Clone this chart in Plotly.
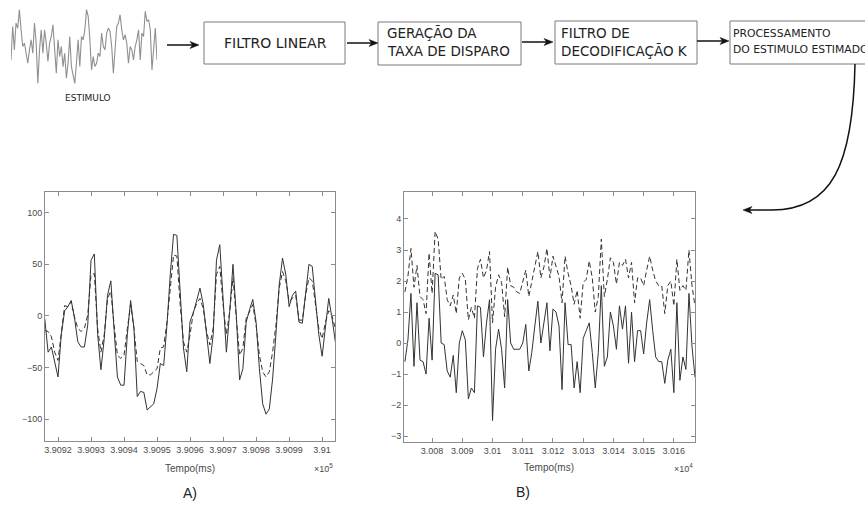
import plotly.graph_objects as go

# ---------------- data ----------------
# Panel A: time in ms (1 ms sampling), stimulus (solid) and estimate (dashed)
a_t0 = 390916
a_solid = [-3, -35, -30, -45, -59, -18, 5, 9, 15, -2, -25, -30, -30, -9, 54, 60, -18, -52, -22, 20,
           34, -14, -59, -67, -67, -18, 15, -12, -78, -73, -74, -91, -88, -85, -70, -46, -48, -9, 40, 79,
           78, 17, -31, -54, -5,
           3, 14, 27, 11, -18, -46, -18, 54, 69, 14, -35, 4, 50, 1, -62, -51, -6, 6, 16, -6,
           -51, -85, -95, -90, -61, -18, 30, 56, 40, 9, 20, 24, -6, -7, 24, 50, 48, 14, -18, -39,
           -9, 17, -2, -25]
a_dashed = [-14, -15, -20, -35, -43, -18, 10, 9, 14, -1, -12, -15, -12, 1, 40, 41, -12, -35, -18, 17,
            24, -9, -38, -41, -38, -12, 11, -12, -44, -46, -48, -57, -57, -54, -51, -31, -30, -6, 30, 59,
            58, 11, -25, -35, -18,
            4, 12, 17, 7, -15, -28, -12, 40, 48, 11, -18, 4, 37, -2, -38, -31, -2, 4, 11, -9,
            -38, -54, -59, -54, -35, -9, 27, 43, 34, 14, 17, 20, -4, -4, 20, 37, 34, 11, -12, -22,
            -6, 5, 0, -12]
a_tickvals = [390920, 390930, 390940, 390950, 390960, 390970, 390980, 390990, 391000]
a_ticktext = ["3.9092", "3.9093", "3.9094", "3.9095", "3.9096", "3.9097", "3.9098", "3.9099", "3.91"]
a_yticks = [-100, -50, 0, 50, 100]

# Panel B
b_t0 = 30071
b_solid = [-0.6, 0.1, 1.6, -0.75, 1.3, -0.55, -0.6, -1.0, 0.8, -0.55, 2.25, 2.2, 0, -0.05, -0.9, -1.1,
           -0.4, -1.6, 0, 0.4, 0.1, -1.8, -1.45, -1.6, 1.2, 1.15, -0.45, 0.65, 1.4, -2.5, -0.2, 0.45,
           -0.2, -1.45, 1.4, 0, -0.2, -0.2, -0.2, 0, 0.6, -0.9, -0.3, 0.55, 1.35, 0, 0.65, 1.3, -0.25,
           1.1, 1.0, 0.55, -1.5, 1.3, -0.05, -0.05, -1.45, -0.6, -1.6, 0.15, 0.4, 0.65, -0.3, -1.45, -0.3,
           1.85, -0.75, -0.45, 1.0, 0.55, -0.2, 1.2, 0.45, 1.2, -0.65, 1.0, -0.6, 0.4, 0.4, -0.35, 0.65,
           1.4, 0.4, -0.45, -0.6, -0.6, -1.3, -0.55, -0.2, -1.6, 1.3, -1.2, -0.45, -0.85, 1.6, -0.1, -1.1]
b_dashed = [1.65, 2.15, 3.05, 1.8, 2.5, 1.5, 1.4, 0.95, 2.9, 1.6, 3.6, 3.35, 2.05, 2.15, 1.4, 1.2,
            1.55, 0.95, 2.1, 2.25, 2.05, 0.75, 1.15, 0.8, 2.4, 2.7, 2.1, 2.35, 2.95, 0.65, 1.8, 2.2,
            1.95, 0.85, 2.45, 1.85, 1.8, 1.65, 1.6, 2.0, 2.35, 1.5, 1.95, 2.45, 2.95, 2.1, 2.45, 3.05, 2.1,
            2.8, 2.5, 2.15, 1.3, 2.8, 2.25, 1.85, 1.25, 1.7, 0.8, 1.95, 2.05, 2.65, 2.1, 1.0, 1.5,
            3.35, 1.5, 2.05, 2.75, 2.6, 1.9, 2.6, 2.5, 2.7, 2.1, 2.6, 1.3, 2.1, 2.1, 1.85, 2.35,
            2.8, 2.35, 2.0, 1.85, 1.85, 0.95, 1.85, 2.0, 1.2, 2.7, 1.7, 1.85, 1.7, 3.0, 1.85, 1.2]
b_tickvals = [30080, 30090, 30100, 30110, 30120, 30130, 30140, 30150, 30160]
b_ticktext = ["3.008", "3.009", "3.01", "3.011", "3.012", "3.013", "3.014", "3.015", "3.016"]
b_yticks = [-3, -2, -1, 0, 1, 2, 3, 4]

# Stimulus trace in the block diagram (arbitrary units)
stim = [-4.0, 6.0, -1.0, 7.0, 5.5, 11.0, 5.0, 0, 1.0, -2.0, -5.0, -1.0, 2.0, -2.0, 7.0, 1.0, -11.0, -1.0,
        5.0, -2.0, 5.0, 1.0, -4.5, 1.0, 3.0, 6.5, -2.0, -8.0, 2.0, -3.0, 0, -6.0, -2.0, -9.5, -5.0, 3.0,
        -6.0, -9.0, -11.0, -5.0, 2.0, -6.0, 3.0, 2.0, 5.0, 11.0, 9.0, 2.0, -7.0, -3.0, -6.0, -5.0, -2.0,
        -3.0, 4.0, 0, -1.0, 4.0, 5.5, 4.5, 0, -8.0, 1.0, 6.0, 7.0, 9.5, 5.0, 2.0, 3.5, 1.0, -5.0, 0,
        -1.0, -4.0, 0, 2.0, 5.0, -4.0, 4.0, 3.0, 10.5, 7.5, 8.0, 5.0, -7.0, 1.0, 5.5, -4.0]

# ---------------- figure ----------------
W, H = 865, 507


def px(x):
    return x / W


def py(y):
    return 1 - y / H


a_t = [a_t0 + i for i in range(len(a_solid))]
b_t = [b_t0 + i for i in range(len(b_solid))]

fig = go.Figure()
LINE = '#333333'
fig.add_trace(go.Scatter(x=a_t, y=a_solid, mode='lines', line=dict(color=LINE, width=1),
                         xaxis='x', yaxis='y', showlegend=False))
fig.add_trace(go.Scatter(x=a_t, y=a_dashed, mode='lines', line=dict(color=LINE, width=1, dash='5px,3px'),
                         xaxis='x', yaxis='y', showlegend=False))
fig.add_trace(go.Scatter(x=b_t, y=b_solid, mode='lines', line=dict(color=LINE, width=1),
                         xaxis='x2', yaxis='y2', showlegend=False))
fig.add_trace(go.Scatter(x=b_t, y=b_dashed, mode='lines', line=dict(color=LINE, width=1, dash='5px,3px'),
                         xaxis='x2', yaxis='y2', showlegend=False))
fig.add_trace(go.Scatter(x=list(range(len(stim))), y=stim, mode='lines',
                         line=dict(color='#909090', width=1.1), xaxis='x3', yaxis='y3', showlegend=False))

TICKFONT = dict(family='Liberation Sans, Arial, sans-serif', size=9, color='#4a4a4a')
ax_common = dict(showline=True, linecolor='#8c8c8c', linewidth=1, mirror='ticks', ticks='inside',
                 ticklen=4, tickcolor='#8c8c8c', showgrid=False, zeroline=False, tickfont=TICKFONT)

fig.update_layout(
    width=W, height=H, margin=dict(l=0, r=0, t=0, b=0),
    paper_bgcolor='white', plot_bgcolor='white', showlegend=False,
    xaxis=dict(domain=[px(45), px(335)], range=[390916.06, 391003.9], tickvals=a_tickvals,
               ticktext=a_ticktext, anchor='y', **ax_common),
    yaxis=dict(domain=[py(441), py(192)], range=[-121, 120], tickvals=a_yticks, anchor='x', **ax_common),
    xaxis2=dict(domain=[px(404), px(695)], range=[30070.7, 30167], tickvals=b_tickvals,
                ticktext=b_ticktext, anchor='y2', **ax_common),
    yaxis2=dict(domain=[py(442), py(192)], range=[-3.19, 4.87], tickvals=b_yticks, anchor='x2', **ax_common),
    xaxis3=dict(domain=[px(11), px(157)], range=[0, len(stim) - 1], visible=False, anchor='y3'),
    yaxis3=dict(domain=[py(85), py(8)], range=[-11.5, 11.5], visible=False, anchor='x3'),
)

# ---------------- diagram ----------------
BOX = dict(color='#7a7a7a', width=1)
boxes = [(204, 22, 345, 64), (378, 22, 521, 65), (555, 21, 697, 64), (730, 21, 880, 64)]
for x0, y0, x1, y1 in boxes:
    fig.add_shape(type='rect', xref='paper', yref='paper', x0=px(x0), x1=px(x1), y0=py(y1), y1=py(y0),
                  line=BOX, fillcolor='rgba(0,0,0,0)')

DFONT = 'DejaVu Sans, Verdana, sans-serif'


def txt(x, y, s, size, xanchor='left', color='#222222', family=DFONT):
    fig.add_annotation(x=px(x), y=py(y), xref='paper', yref='paper', text=s, showarrow=False,
                       xanchor=xanchor, yanchor='middle', font=dict(family=family, size=size, color=color))


txt(275, 43, 'FILTRO LINEAR', 14, 'center')
txt(385, 33, 'GERAÇÃO DA', 13.5)
txt(385, 51, 'TAXA DE DISPARO', 13.5)
txt(559, 33, 'FILTRO DE', 13.5)
txt(559, 51, 'DECODIFICAÇÃO K', 13.5)
txt(731, 33, 'PROCESSAMENTO', 10.8)
txt(731, 49, 'DO ESTIMULO ESTIMADO', 10.8)
txt(88, 98, 'ESTIMULO', 9, 'center')

ARROW = '#111111'


def arrow_head(tx, ty, direction):
    # small filled triangle with its tip at (tx, ty); direction +1 points right, -1 points left
    d = direction
    p = 'M {},{} L {},{} L {},{} L {},{} Z'.format(
        px(tx), py(ty), px(tx - 9 * d), py(ty - 3.5), px(tx - 6.5 * d), py(ty),
        px(tx - 9 * d), py(ty + 3.5))
    fig.add_shape(type='path', xref='paper', yref='paper', path=p, fillcolor=ARROW,
                  line=dict(color=ARROW, width=0.5))


arrows = [(167, 199, 45), (347, 378, 43), (522, 553, 42), (697, 729, 41)]
for x0, x1, y in arrows:
    fig.add_shape(type='line', xref='paper', yref='paper', x0=px(x0), x1=px(x1 - 6), y0=py(y), y1=py(y),
                  line=dict(color=ARROW, width=1.5))
    arrow_head(x1, y, 1)

# curved connector
path = 'M {},{} C {},{} {},{} {},{}'.format(px(855), py(64), px(853), py(165), px(832), py(210),
                                             px(772), py(210))
fig.add_shape(type='path', xref='paper', yref='paper', path=path, line=dict(color=ARROW, width=1.5))
fig.add_shape(type='line', xref='paper', yref='paper', x0=px(772), x1=px(749), y0=py(210), y1=py(210),
              line=dict(color=ARROW, width=1.5))
arrow_head(743, 210, -1)

# axis titles and labels
LFONT = 'Liberation Sans, Arial, sans-serif'
txt(190, 468, 'Tempo(ms)', 10, 'center', '#4a4a4a', LFONT)
txt(549, 467, 'Tempo(ms)', 10, 'center', '#4a4a4a', LFONT)
txt(335, 468, '×10<sup>5</sup>', 9, 'right', '#4a4a4a', LFONT)
txt(695, 468, '×10<sup>4</sup>', 9, 'right', '#4a4a4a', LFONT)
txt(190, 493, 'A)', 14, 'center', '#222222', LFONT)
txt(523, 492, 'B)', 14, 'center', '#222222', LFONT)

fig.write_html('out.html', config={'displayModeBar': False},
               post_script="document.body.style.margin='0px';document.body.style.overflow='hidden';")
